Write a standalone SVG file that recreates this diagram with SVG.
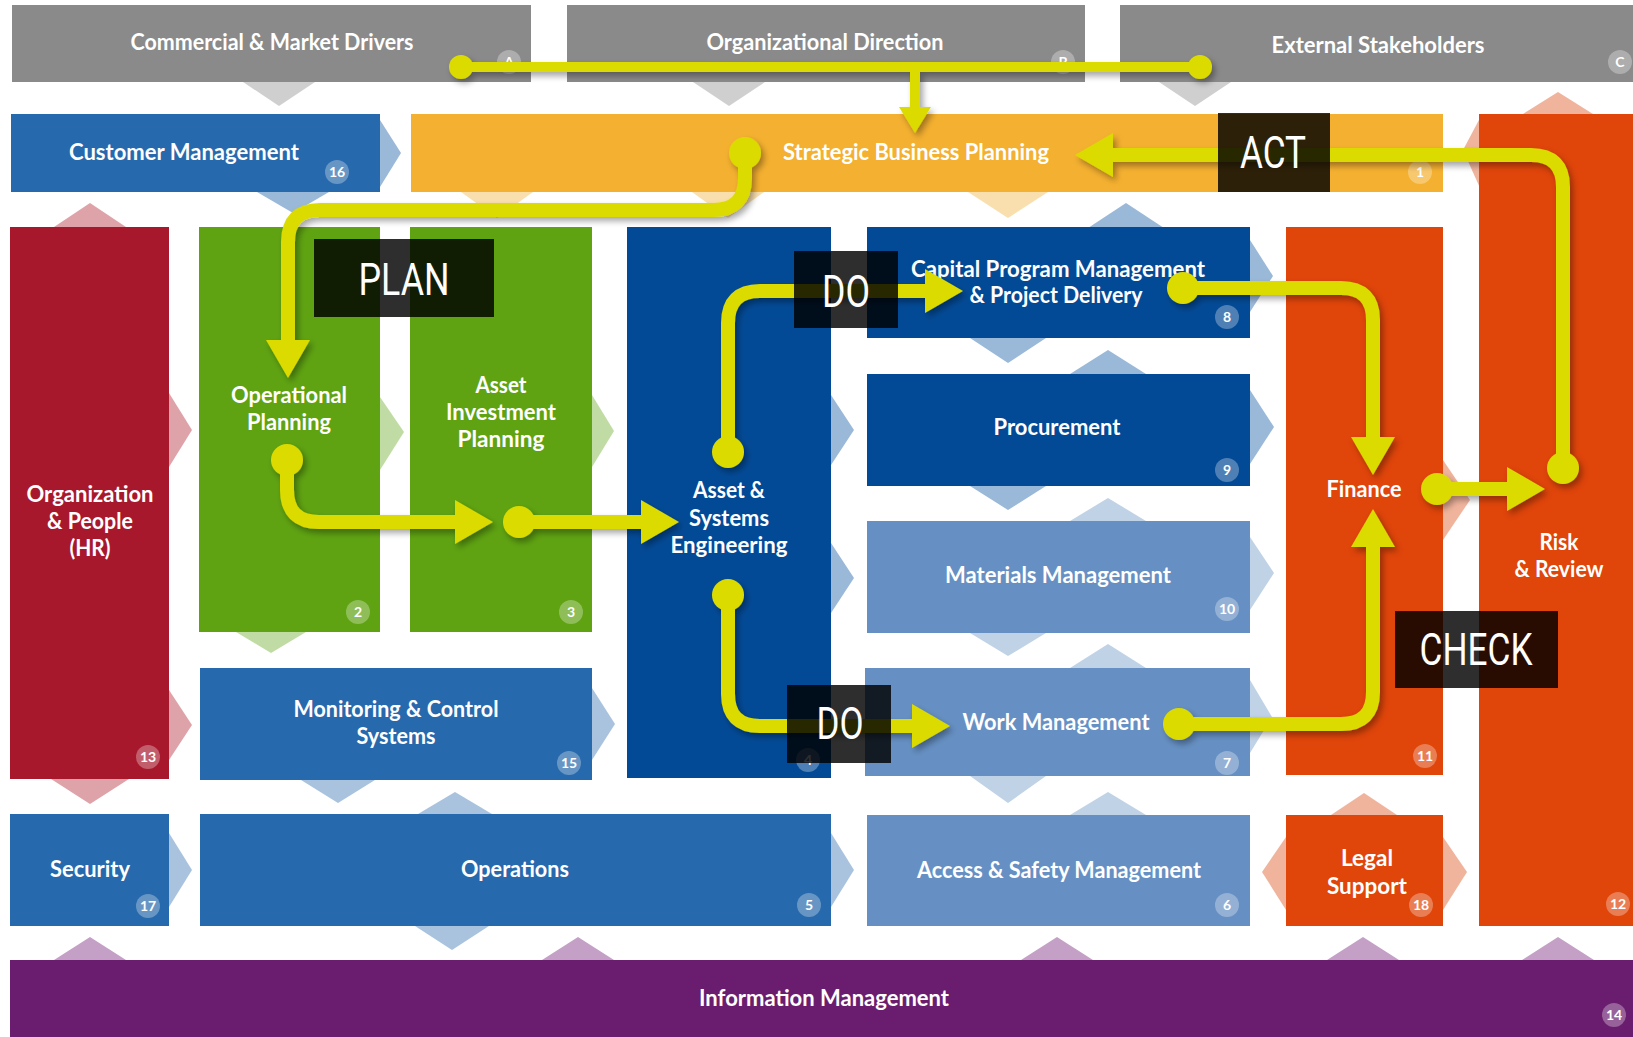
<svg xmlns="http://www.w3.org/2000/svg" width="1633" height="1037" viewBox="0 0 1633 1037">
<defs>
<style>
.gray{fill:#8a8a8a}.blue{fill:#2669ad}.dblue{fill:#034a96}.lblue{fill:#6690c3}.orange{fill:#f4b030}.red{fill:#a8182d}.green{fill:#5fa312}.ored{fill:#e0450a}.purple{fill:#6a1d6f}
.c-gray{fill:#cfcfcf}.c-lb1{fill:#9ab8d8}.c-lb2{fill:#a9c3df}.c-lb3{fill:#c0d2e6}.c-or{fill:#f9dfae}.c-gr{fill:#c0dca4}.c-pk{fill:#dea3a9}.c-sa{fill:#f0b49c}.c-pu{fill:#c4a0c6}
.lbl{font-family:Lato,'Open Sans','Liberation Sans',sans-serif;font-weight:700;font-size:22px;fill:#fff;text-anchor:middle}
.bdg circle{fill:#fff;fill-opacity:.3}
.bdg text{font-family:Lato,'Liberation Sans',sans-serif;font-weight:700;font-size:14px;fill:#fff;text-anchor:middle}
.yl{fill:none;stroke:#dcdb00;stroke-width:14}
.yl.thin{stroke-width:10}
.pdca rect{fill:#000;fill-opacity:.82}
.pdca text{font-family:Roboto,'DejaVu Sans Condensed','Liberation Sans',sans-serif;font-weight:400;font-size:45px;fill:#fff;text-anchor:middle}
</style>
<filter id="sh" x="-10%" y="-10%" width="130%" height="130%">
<feDropShadow dx="3" dy="4" stdDeviation="3" flood-color="#000" flood-opacity="0.35"/>
</filter>
<marker id="ah" viewBox="0 0 38 44" refX="0" refY="22" markerWidth="38" markerHeight="44" markerUnits="userSpaceOnUse" orient="auto">
<path d="M0,0 L38,22 L0,44 Z" fill="#dcdb00"/>
</marker>
<marker id="ahs" viewBox="0 0 26 32" refX="0" refY="16" markerWidth="26" markerHeight="32" markerUnits="userSpaceOnUse" orient="auto">
<path d="M0,0 L26,16 L0,32 Z" fill="#dcdb00"/>
</marker>
<marker id="dot" viewBox="0 0 32 32" refX="16" refY="16" markerWidth="32" markerHeight="32" markerUnits="userSpaceOnUse">
<circle cx="16" cy="16" r="16" fill="#dcdb00"/>
</marker>
<marker id="dots" viewBox="0 0 24 24" refX="12" refY="12" markerWidth="24" markerHeight="24" markerUnits="userSpaceOnUse">
<circle cx="12" cy="12" r="12" fill="#dcdb00"/>
</marker>
</defs>
<rect width="1633" height="1037" fill="#fff"/>

<g id="chevrons">
<polygon class="c-gray" points="243,82 315,82 279,106"/>
<polygon class="c-gray" points="693,82 765,82 729,106"/>
<polygon class="c-gray" points="1159,82 1231,82 1195,106"/>
<polygon class="c-lb1" points="380,120 401,153 380,187"/>
<polygon class="c-lb1" points="257,192 329,192 293,213"/>
<polygon class="c-lb1" points="1088,228 1164,228 1126,203"/>
<polygon class="c-lb1" points="1250,240 1273,276 1250,312"/>
<polygon class="c-lb1" points="970,338 1046,338 1008,363"/>
<polygon class="c-lb1" points="1070,374 1146,374 1108,350"/>
<polygon class="c-lb1" points="1250,390 1274,427 1250,464"/>
<polygon class="c-lb1" points="970,486 1046,486 1008,510"/>
<polygon class="c-lb1" points="831,395 854,430 831,465"/>
<polygon class="c-lb1" points="831,543 854,578 831,613"/>
<polygon class="c-lb2" points="592,688 615,724 592,760"/>
<polygon class="c-lb2" points="301,780 375,780 338,803"/>
<polygon class="c-lb2" points="418,814 492,814 455,792"/>
<polygon class="c-lb2" points="169,833 192,870 169,907"/>
<polygon class="c-lb2" points="831,833 854,870 831,907"/>
<polygon class="c-lb2" points="415,926 489,926 452,950"/>
<polygon class="c-lb3" points="1070,521 1146,521 1108,498"/>
<polygon class="c-lb3" points="1250,537 1274,573 1250,610"/>
<polygon class="c-lb3" points="970,633 1046,633 1008,656"/>
<polygon class="c-lb3" points="1070,668 1146,668 1108,644"/>
<polygon class="c-lb3" points="1250,680 1272,717 1250,753"/>
<polygon class="c-lb3" points="970,776 1046,776 1008,803"/>
<polygon class="c-lb3" points="1070,815 1146,815 1108,792"/>
<polygon class="c-or" points="461,192 533,192 497,218"/>
<polygon class="c-or" points="692,192 764,192 728,218"/>
<polygon class="c-or" points="968,192 1048,192 1008,218"/>
<polygon class="c-gr" points="380,397 404,432 380,470"/>
<polygon class="c-gr" points="592,395 614,431 592,467"/>
<polygon class="c-gr" points="236,632 306,632 271,653"/>
<polygon class="c-pk" points="54,227 126,227 90,203"/>
<polygon class="c-pk" points="169,393 192,430 169,467"/>
<polygon class="c-pk" points="169,690 192,725 169,760"/>
<polygon class="c-pk" points="51,779 129,779 90,804"/>
<polygon class="c-sa" points="1523,114 1593,114 1558,92"/>
<polygon class="c-sa" points="1480,118 1463,150 1480,188"/>
<polygon class="c-sa" points="1443,460 1470,500 1443,540"/>
<polygon class="c-sa" points="1331,815 1397,815 1364,793"/>
<polygon class="c-sa" points="1286,837 1262,872 1286,910"/>
<polygon class="c-sa" points="1443,837 1467,872 1443,910"/>
<polygon class="c-pu" points="54,960 126,960 90,937"/>
<polygon class="c-pu" points="542,960 614,960 578,937"/>
<polygon class="c-pu" points="1021,960 1093,960 1057,937"/>
<polygon class="c-pu" points="1327,960 1399,960 1363,937"/>
<polygon class="c-pu" points="1522,960 1594,960 1558,937"/>
</g>

<g id="commercial">
<rect class="gray" x="12" y="5" width="519" height="77"/>
<text class="lbl" x="272" y="50" textLength="283" lengthAdjust="spacingAndGlyphs">Commercial &amp; Market Drivers</text>
<g class="bdg"><circle cx="509" cy="62" r="12"/><text x="509" y="67">A</text></g>
</g>
<g id="organizational-direction">
<rect class="gray" x="567" y="5" width="518" height="77"/>
<text class="lbl" x="825" y="50" textLength="237" lengthAdjust="spacingAndGlyphs">Organizational Direction</text>
<g class="bdg"><circle cx="1063" cy="62" r="12"/><text x="1063" y="67">B</text></g>
</g>
<g id="external-stakeholders">
<rect class="gray" x="1120" y="5" width="513" height="77"/>
<text class="lbl" x="1378" y="53" textLength="213" lengthAdjust="spacingAndGlyphs">External Stakeholders</text>
<g class="bdg"><circle cx="1620" cy="62" r="12"/><text x="1620" y="67">C</text></g>
</g>
<g id="customer-management">
<rect class="blue" x="11" y="114" width="369" height="78"/>
<text class="lbl" x="184" y="160" textLength="230" lengthAdjust="spacingAndGlyphs">Customer Management</text>
<g class="bdg"><circle cx="337" cy="172" r="12"/><text x="337" y="177">16</text></g>
</g>
<g id="strategic-business-planning">
<rect class="orange" x="411" y="114" width="1032" height="78"/>
<text class="lbl" x="916" y="160" textLength="266" lengthAdjust="spacingAndGlyphs">Strategic Business Planning</text>
<g class="bdg"><circle cx="1420" cy="172" r="12"/><text x="1420" y="177">1</text></g>
</g>
<g id="organization-people">
<rect class="red" x="10" y="227" width="159" height="552"/>
<text class="lbl" x="90" y="502" textLength="127" lengthAdjust="spacingAndGlyphs">Organization</text>
<text class="lbl" x="90" y="529" textLength="86" lengthAdjust="spacingAndGlyphs">&amp; People</text>
<text class="lbl" x="90" y="556" textLength="41" lengthAdjust="spacingAndGlyphs">(HR)</text>
<g class="bdg"><circle cx="148" cy="757" r="12"/><text x="148" y="762">13</text></g>
</g>
<g id="operational-planning">
<rect class="green" x="199" y="227" width="181" height="405"/>
<text class="lbl" x="289" y="403" textLength="116" lengthAdjust="spacingAndGlyphs">Operational</text>
<text class="lbl" x="289" y="430" textLength="84" lengthAdjust="spacingAndGlyphs">Planning</text>
<g class="bdg"><circle cx="358" cy="612" r="12"/><text x="358" y="617">2</text></g>
</g>
<g id="asset-investment-planning">
<rect class="green" x="410" y="227" width="182" height="405"/>
<text class="lbl" x="501" y="393" textLength="51" lengthAdjust="spacingAndGlyphs">Asset</text>
<text class="lbl" x="501" y="420" textLength="110" lengthAdjust="spacingAndGlyphs">Investment</text>
<text class="lbl" x="501" y="447" textLength="87" lengthAdjust="spacingAndGlyphs">Planning</text>
<g class="bdg"><circle cx="571" cy="612" r="12"/><text x="571" y="617">3</text></g>
</g>
<g id="asset-systems-engineering">
<rect class="dblue" x="627" y="227" width="204" height="551"/>
<text class="lbl" x="729" y="498" textLength="72" lengthAdjust="spacingAndGlyphs">Asset &amp;</text>
<text class="lbl" x="729" y="526" textLength="80" lengthAdjust="spacingAndGlyphs">Systems</text>
<text class="lbl" x="729" y="553" textLength="117" lengthAdjust="spacingAndGlyphs">Engineering</text>
<g class="bdg"><circle cx="808" cy="760" r="12"/><text x="808" y="765">4</text></g>
</g>
<g id="capital-program-management">
<rect class="dblue" x="867" y="227" width="383" height="111"/>
<text class="lbl" x="1058" y="277" textLength="294" lengthAdjust="spacingAndGlyphs">Capital Program Management</text>
<text class="lbl" x="1056" y="303" textLength="173" lengthAdjust="spacingAndGlyphs">&amp; Project Delivery</text>
<g class="bdg"><circle cx="1227" cy="317" r="12"/><text x="1227" y="322">8</text></g>
</g>
<g id="procurement">
<rect class="dblue" x="867" y="374" width="383" height="112"/>
<text class="lbl" x="1057" y="435" textLength="127" lengthAdjust="spacingAndGlyphs">Procurement</text>
<g class="bdg"><circle cx="1227" cy="470" r="12"/><text x="1227" y="475">9</text></g>
</g>
<g id="materials-management">
<rect class="lblue" x="867" y="521" width="383" height="112"/>
<text class="lbl" x="1058" y="583" textLength="226" lengthAdjust="spacingAndGlyphs">Materials Management</text>
<g class="bdg"><circle cx="1227" cy="609" r="12"/><text x="1227" y="614">10</text></g>
</g>
<g id="work-management">
<rect class="lblue" x="865" y="668" width="385" height="108"/>
<text class="lbl" x="1056" y="730" textLength="187" lengthAdjust="spacingAndGlyphs">Work Management</text>
<g class="bdg"><circle cx="1227" cy="763" r="12"/><text x="1227" y="768">7</text></g>
</g>
<g id="finance">
<rect class="ored" x="1286" y="227" width="157" height="548"/>
<text class="lbl" x="1364" y="497" textLength="75" lengthAdjust="spacingAndGlyphs">Finance</text>
<g class="bdg"><circle cx="1425" cy="756" r="12"/><text x="1425" y="761">11</text></g>
</g>
<g id="risk-review">
<rect class="ored" x="1479" y="114" width="154" height="812"/>
<text class="lbl" x="1559" y="550" textLength="39" lengthAdjust="spacingAndGlyphs">Risk</text>
<text class="lbl" x="1559" y="577" textLength="89" lengthAdjust="spacingAndGlyphs">&amp; Review</text>
<g class="bdg"><circle cx="1618" cy="904" r="12"/><text x="1618" y="909">12</text></g>
</g>
<g id="monitoring-control">
<rect class="blue" x="200" y="668" width="392" height="112"/>
<text class="lbl" x="396" y="717" textLength="205" lengthAdjust="spacingAndGlyphs">Monitoring &amp; Control</text>
<text class="lbl" x="396" y="744" textLength="79" lengthAdjust="spacingAndGlyphs">Systems</text>
<g class="bdg"><circle cx="569" cy="763" r="12"/><text x="569" y="768">15</text></g>
</g>
<g id="security">
<rect class="blue" x="10" y="814" width="159" height="112"/>
<text class="lbl" x="90" y="877" textLength="80" lengthAdjust="spacingAndGlyphs">Security</text>
<g class="bdg"><circle cx="148" cy="906" r="12"/><text x="148" y="911">17</text></g>
</g>
<g id="operations">
<rect class="blue" x="200" y="814" width="631" height="112"/>
<text class="lbl" x="515" y="877" textLength="108" lengthAdjust="spacingAndGlyphs">Operations</text>
<g class="bdg"><circle cx="809" cy="905" r="12"/><text x="809" y="910">5</text></g>
</g>
<g id="access-safety-management">
<rect class="lblue" x="867" y="815" width="383" height="111"/>
<text class="lbl" x="1059" y="878" textLength="284" lengthAdjust="spacingAndGlyphs">Access &amp; Safety Management</text>
<g class="bdg"><circle cx="1227" cy="905" r="12"/><text x="1227" y="910">6</text></g>
</g>
<g id="legal-support">
<rect class="ored" x="1286" y="815" width="157" height="111"/>
<text class="lbl" x="1367" y="866" textLength="52" lengthAdjust="spacingAndGlyphs">Legal</text>
<text class="lbl" x="1367" y="894" textLength="80" lengthAdjust="spacingAndGlyphs">Support</text>
<g class="bdg"><circle cx="1421" cy="905" r="12"/><text x="1421" y="910">18</text></g>
</g>
<g id="information-management">
<rect class="purple" x="10" y="960" width="1623" height="77"/>
<text class="lbl" x="824" y="1006" textLength="250" lengthAdjust="spacingAndGlyphs">Information Management</text>
<g class="bdg"><circle cx="1614" cy="1015" r="12"/><text x="1614" y="1020">14</text></g>
</g>

<g id="connectors" filter="url(#sh)">
<path class="yl thin" d="M461,67 H1200" marker-start="url(#dots)" marker-end="url(#dots)"/>
<path class="yl thin" d="M915,67 V107" marker-end="url(#ahs)"/>
<path class="yl" d="M745,153 V178 Q745,210 713,210 H320 Q288,210 288,242 V340" marker-start="url(#dot)" marker-end="url(#ah)"/>
<path class="yl" d="M287,460 V490 Q287,522 319,522 H455" marker-start="url(#dot)" marker-end="url(#ah)"/>
<path class="yl" d="M519,522 H641" marker-start="url(#dot)" marker-end="url(#ah)"/>
<path class="yl" d="M728,452 V323 Q728,291 760,291 H925" marker-start="url(#dot)" marker-end="url(#ah)"/>
<path class="yl" d="M728,595 V694 Q728,726 760,726 H912" marker-start="url(#dot)" marker-end="url(#ah)"/>
<path class="yl" d="M1183,288 H1341 Q1373,288 1373,320 V437" marker-start="url(#dot)" marker-end="url(#ah)"/>
<path class="yl" d="M1179,724 H1341 Q1373,724 1373,692 V547" marker-start="url(#dot)" marker-end="url(#ah)"/>
<path class="yl" d="M1437,489 H1507" marker-start="url(#dot)" marker-end="url(#ah)"/>
<path class="yl" d="M1563,468 V187 Q1563,155 1531,155 H1113" marker-start="url(#dot)" marker-end="url(#ah)"/>
</g>

<g id="pdca-labels" class="pdca">
<g id="plan"><rect x="314" y="239" width="180" height="78"/><text x="404" y="295" textLength="91" lengthAdjust="spacingAndGlyphs">PLAN</text></g>
<g id="do-top"><rect x="794" y="251" width="104" height="77"/><text x="846" y="307" textLength="48" lengthAdjust="spacingAndGlyphs">DO</text></g>
<g id="do-bottom"><rect x="787" y="685" width="104" height="78"/><text x="840" y="739" textLength="47" lengthAdjust="spacingAndGlyphs">DO</text></g>
<g id="act"><rect x="1218" y="113" width="112" height="79"/><text x="1273" y="168" textLength="66" lengthAdjust="spacingAndGlyphs">ACT</text></g>
<g id="check"><rect x="1395" y="611" width="163" height="77"/><text x="1476" y="665" textLength="113" lengthAdjust="spacingAndGlyphs">CHECK</text></g>
</g>
</svg>
